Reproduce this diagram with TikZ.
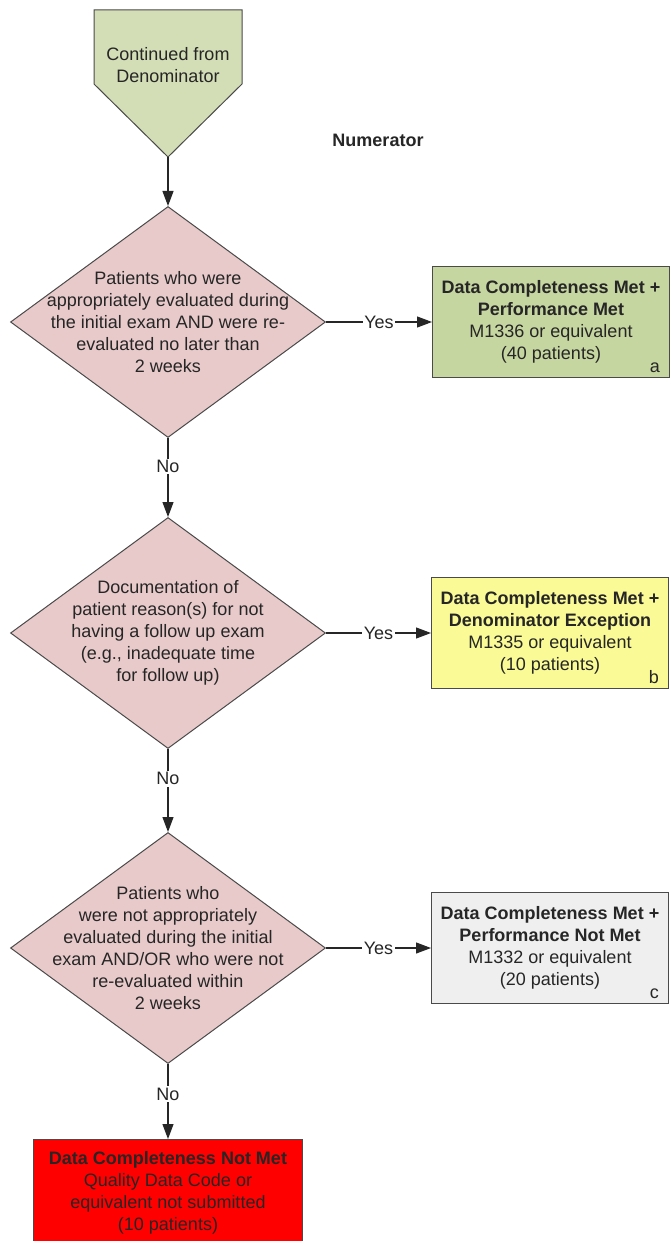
\documentclass[tikz,border=0pt]{standalone}
\usepackage{fontspec}
\setmainfont{Liberation Sans}
\usepackage{tikz}
\usetikzlibrary{arrows.meta,positioning,shapes.geometric}

\definecolor{edgegray}{HTML}{4A4A4A}
\definecolor{metgreen}{HTML}{C6D6A0}
\definecolor{contgreen}{HTML}{D3DDB6}
\definecolor{decpink}{HTML}{E8CACA}
\definecolor{excyellow}{HTML}{FAFA96}
\definecolor{notgray}{HTML}{EFEFEF}
\newcommand{\flowfont}{\fontsize{18}{22}\selectfont}

\begin{document}
\begin{tikzpicture}[x=1pt,y=-1pt,>={Triangle[length=15pt,width=11pt]},
  every node/.style={text=black!85,font=\flowfont},
  dec/.style={diamond,draw=edgegray,line width=1pt,fill=decpink,minimum width=315pt,minimum height=231pt,inner sep=0pt},
  outbox/.style={draw=edgegray,line width=1pt,minimum width=237pt,minimum height=111pt,align=center},
  flow/.style={->,draw=black!85,line width=1.1pt},
  lbl/.style={fill=white,inner sep=1.5pt},
  corner/.style={anchor=south east,inner sep=0pt}]
\useasboundingbox (0,0) rectangle (670,1241);
\fill[white] (0,0) rectangle (670,1241);
% off-page connector
\draw[edgegray,line width=1pt,fill=contgreen] (94,10) -- (242,10) -- (242,84) -- (168,157) -- (94,84) -- cycle;
\node[align=center] (cont) at (168,65) {Continued from\\Denominator};
\coordinate (conttip) at (168,157);
\node[font=\flowfont\bfseries] (numtitle) at (378,140) {Numerator};

% decisions
\node[dec] (d1) at (168,322) {};
\node[align=center] at (d1) {Patients who were\\appropriately evaluated during\\the initial exam AND were re-\\evaluated no later than\\2 weeks};
\node[dec] (d2) at (168,633) {};
\node[align=center] at (d2) {Documentation of\\patient reason(s) for not\\having a follow up exam\\(e.g., inadequate time\\for follow up)};
\node[dec] (d3) at (168,948) {};
\node[align=center] at (d3) {Patients who\\were not appropriately\\evaluated during the initial\\exam AND/OR who were not\\re-evaluated within\\2 weeks};

% outcomes
\node[outbox,fill=metgreen,right=106pt of d1] (a) {\textbf{Data Completeness Met +}\\\textbf{Performance Met}\\M1336 or equivalent\\(40 patients)};
\node[corner] at ([shift={(-10,-5)}]a.south east) {a};
\node[outbox,fill=excyellow,right=105pt of d2] (b) {\textbf{Data Completeness Met +}\\\textbf{Denominator Exception}\\M1335 or equivalent\\(10 patients)};
\node[corner] at ([shift={(-10,-5)}]b.south east) {b};
\node[outbox,fill=notgray,right=105pt of d3] (c) {\textbf{Data Completeness Met +}\\\textbf{Performance Not Met}\\M1332 or equivalent\\(20 patients)};
\node[corner] at ([shift={(-10,-5)}]c.south east) {c};
\node[outbox,fill=red,minimum width=269pt,minimum height=106pt,anchor=north] (notmet) at (168,1139) {\textbf{Data Completeness Not Met}\\Quality Data Code or\\equivalent not submitted\\(10 patients)};

\draw[flow] (conttip) -- (d1.north);
\draw[flow] (d1.east) -- node[lbl] {Yes} (a.west);
\draw[flow] (d2.east) -- node[lbl] {Yes} (b.west);
\draw[flow] (d3.east) -- node[lbl] {Yes} (c.west);
\draw[flow] (d1.south) -- node[lbl,pos=0.36] {No} (d2.north);
\draw[flow] (d2.south) -- node[lbl,pos=0.36] {No} (d3.north);
\draw[flow] (d3.south) -- node[lbl,pos=0.4] {No} (notmet.north);
\end{tikzpicture}
\end{document}
